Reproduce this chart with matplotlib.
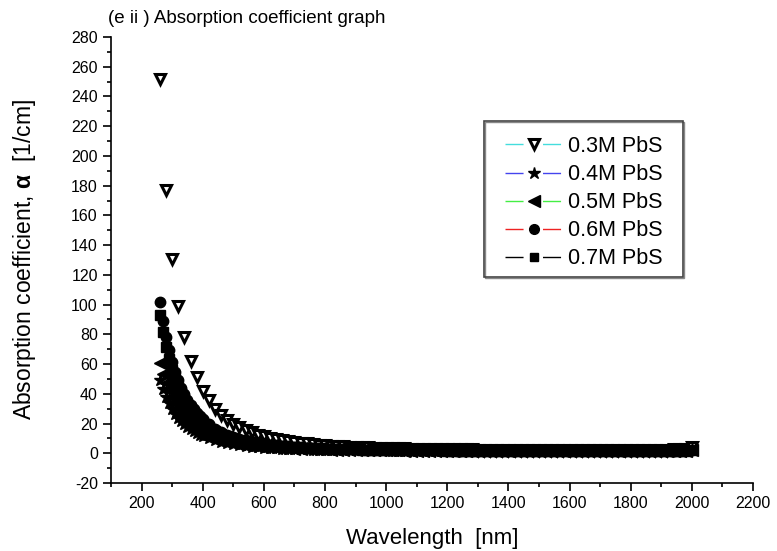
import numpy as np
import matplotlib
matplotlib.use("Agg")
import matplotlib.pyplot as plt
from matplotlib.lines import Line2D
from matplotlib.patches import Rectangle
from matplotlib.ticker import MultipleLocator

plt.rcParams['font.family'] = ['Liberation Sans', 'DejaVu Sans']
plt.rcParams['mathtext.fontset'] = 'custom'
plt.rcParams['mathtext.rm'] = 'Liberation Sans'
plt.rcParams['mathtext.bf'] = 'Liberation Sans:bold'
plt.rcParams['axes.unicode_minus'] = False

# wavelength grids [nm]
wl_03 = list(range(260, 701, 20)) + list(range(720, 2001, 20))
wl_dense = list(range(260, 401, 10)) + list(range(420, 701, 20)) + list(range(720, 2001, 20))

# absorption coefficient [1/cm]
alpha_03 = [252, 177, 131, 99, 78, 62, 51, 42, 36, 30, 26, 22.5, 19.5, 17.5, 15.5, 14, 12.5,
            11.5, 10.5, 9.6, 8.9, 8.2, 7.6,
            7.1, 6.6, 6.2, 5.8, 5.5, 5.2, 4.9, 4.7, 4.5, 4.3, 4.1, 4.0, 3.8, 3.7, 3.6,
            3.5, 3.4, 3.3, 3.2, 3.1, 3.0, 3.0, 2.9, 2.8, 2.8,
            2.7, 2.7, 2.6, 2.6, 2.5, 2.5, 2.5, 2.4, 2.4, 2.4,
            2.4, 2.3, 2.3, 2.3, 2.3, 2.3, 2.2, 2.2, 2.2, 2.2,
            2.2, 2.2, 2.2, 2.2, 2.2, 2.2, 2.2, 2.2, 2.2, 2.2,
            2.2, 2.3, 2.3, 2.3, 2.4, 2.5, 2.6, 2.8, 3.1, 3.9]

alpha_04 = [49.0, 43.0, 37.9, 33.6, 29.9, 26.7, 24.0, 21.6, 19.6, 17.8, 16.2, 14.8, 13.6, 12.5, 11.6,
            10.0, 8.6, 7.6, 6.7, 6.0, 5.4, 4.9, 4.5, 4.1, 3.8, 3.6, 3.4, 3.2, 3.0, 2.8,
            2.7, 2.6, 2.5, 2.4, 2.35, 2.3, 2.25, 2.2, 2.15, 2.05, 2.0, 2.0, 1.95, 1.9, 1.9,
            1.85, 1.85, 1.8, 1.8, 1.75, 1.75, 1.7, 1.7, 1.7, 1.65,
            1.65, 1.65, 1.6, 1.6, 1.6, 1.6, 1.55, 1.55, 1.55, 1.55,
            1.5, 1.5, 1.5, 1.5, 1.5, 1.5, 1.5, 1.5, 1.5, 1.5,
            1.5, 1.5, 1.5, 1.5, 1.5, 1.5, 1.5, 1.5, 1.5, 1.5,
            1.5, 1.5, 1.5, 1.5, 1.55, 1.55, 1.6, 1.65, 1.75, 1.9]

alpha_05 = [61.0, 53.4, 47.1, 41.7, 37.0, 33.1, 29.7, 26.7, 24.2, 21.9, 19.9, 18.2, 16.7, 15.3, 14.1,
            12.1, 10.5, 9.1, 8.0, 7.2, 6.4, 5.8, 5.3, 4.8, 4.4, 4.1, 3.8, 3.6, 3.4, 3.2,
            3.0, 2.9, 2.8, 2.7, 2.55, 2.5, 2.4, 2.35, 2.3, 2.2, 2.15, 2.1, 2.05, 2.0, 1.95,
            1.9, 1.9, 1.85, 1.85, 1.8, 1.8, 1.75, 1.75, 1.7, 1.7,
            1.7, 1.65, 1.65, 1.65, 1.6, 1.6, 1.6, 1.6, 1.6, 1.55,
            1.55, 1.55, 1.55, 1.55, 1.55, 1.55, 1.55, 1.55, 1.55, 1.55,
            1.55, 1.55, 1.55, 1.55, 1.55, 1.55, 1.55, 1.55, 1.55, 1.55,
            1.55, 1.55, 1.55, 1.55, 1.6, 1.6, 1.65, 1.7, 1.8, 1.95]

alpha_06 = [102.0, 89.2, 78.5, 69.3, 61.5, 54.9, 49.1, 44.1, 39.8, 36.0, 32.6, 29.7, 27.1, 24.8, 22.8,
            19.4, 16.6, 14.4, 12.6, 11.0, 9.8, 8.7, 7.9, 7.1, 6.5, 5.9, 5.4, 5.0, 4.7, 4.3,
            4.0, 3.8, 3.6, 3.4, 3.3, 3.1, 3.0, 2.9, 2.8, 2.65, 2.6, 2.5, 2.45, 2.4, 2.3,
            2.25, 2.2, 2.15, 2.1, 2.05, 2.0, 2.0, 1.95, 1.95, 1.9,
            1.9, 1.85, 1.85, 1.8, 1.8, 1.8, 1.75, 1.75, 1.75, 1.7,
            1.7, 1.7, 1.7, 1.7, 1.7, 1.7, 1.65, 1.65, 1.65, 1.65,
            1.65, 1.65, 1.65, 1.65, 1.65, 1.65, 1.65, 1.65, 1.65, 1.65,
            1.65, 1.65, 1.65, 1.65, 1.7, 1.7, 1.75, 1.8, 1.9, 2.1]

alpha_07 = [93.0, 81.4, 71.6, 63.3, 56.2, 50.1, 44.8, 40.3, 36.3, 32.9, 29.9, 27.2, 24.8, 22.8, 20.9,
            17.8, 15.3, 13.2, 11.6, 10.2, 9.0, 8.1, 7.3, 6.6, 6.0, 5.5, 5.1, 4.7, 4.4, 4.1,
            3.8, 3.6, 3.4, 3.3, 3.1, 3.0, 2.9, 2.8, 2.7, 2.6, 2.5, 2.45, 2.4, 2.3, 2.25,
            2.2, 2.15, 2.1, 2.05, 2.0, 1.95, 1.95, 1.9, 1.9, 1.85,
            1.85, 1.8, 1.8, 1.75, 1.75, 1.75, 1.7, 1.7, 1.7, 1.7,
            1.65, 1.65, 1.65, 1.65, 1.65, 1.65, 1.6, 1.6, 1.6, 1.6,
            1.6, 1.6, 1.6, 1.6, 1.6, 1.6, 1.6, 1.6, 1.6, 1.6,
            1.6, 1.6, 1.6, 1.6, 1.65, 1.65, 1.7, 1.75, 1.85, 2.0]

labels = ["0.3M PbS", "0.4M PbS", "0.5M PbS", "0.6M PbS", "0.7M PbS"]
line_colors = ["#44dddd", "#4444ee", "#44ee44", "#ee2222", "#000000"]

fig = plt.figure(figsize=(7.77, 5.51), dpi=100)
ax = fig.add_axes([0.1429, 0.1234, 0.8262, 0.8094])

ax.plot(wl_03, alpha_03, ls="none", marker="v", ms=7, mfc="white", mec="black", mew=2.2)
ax.plot(wl_dense, alpha_04, ls="none", marker="*", ms=9.5, color="black")
ax.plot(wl_dense, alpha_05, ls="none", marker="<", ms=8, color="black")
ax.plot(wl_dense, alpha_06, ls="none", marker="o", ms=7.5, color="black")
ax.plot(wl_dense, alpha_07, ls="none", marker="s", ms=6.5, color="black")

ax.set_xlim(100, 2200)
ax.set_ylim(-20, 280)
ax.xaxis.set_major_locator(MultipleLocator(200))
ax.xaxis.set_minor_locator(MultipleLocator(100))
ax.yaxis.set_major_locator(MultipleLocator(20))
ax.yaxis.set_minor_locator(MultipleLocator(10))
ax.set_xticks([200, 400, 600, 800, 1000, 1200, 1400, 1600, 1800, 2000, 2200])
ax.spines["top"].set_visible(False)
ax.spines["right"].set_visible(False)
ax.tick_params(which="major", direction="out", length=6, width=1.2, labelsize=11.5)
ax.tick_params(which="minor", direction="out", length=3, width=1.2)
for s in ["left", "bottom"]:
    ax.spines[s].set_linewidth(1.2)

ax.set_xlabel("Wavelength  [nm]", fontsize=16, labelpad=12)
ax.set_ylabel(r"Absorption coefficient, $\mathbf{\alpha}$  [1/cm]", fontsize=16.5, labelpad=24)
fig.text(0.139, 0.967, "(e ii ) Absorption coefficient graph", fontsize=13.5, va="center", ha="left")

dash = (0, (13, 14, 13, 100))
handles = [
    Line2D([], [], color=line_colors[0], lw=1, ls=dash, marker="v", ms=7, mfc="white", mec="black", mew=2.2),
    Line2D([], [], color=line_colors[1], lw=1, ls=dash, marker="*", ms=9, mfc="black", mec="black"),
    Line2D([], [], color=line_colors[2], lw=1, ls=dash, marker="<", ms=8, mfc="black", mec="black"),
    Line2D([], [], color=line_colors[3], lw=1, ls=dash, marker="o", ms=7, mfc="black", mec="black"),
    Line2D([], [], color=line_colors[4], lw=1, ls=dash, marker="s", ms=6, mfc="black", mec="black"),
]
leg = fig.legend(handles, labels, loc="upper left", bbox_to_anchor=(0.6319, 0.7786),
                 fontsize=15.5, frameon=False,
                 handlelength=2.65, handletextpad=0.3, labelspacing=0.33,
                 borderpad=0.65, borderaxespad=0)

# legend box (Origin style, with a slight shadow on right/bottom)
fig.patches.append(Rectangle((0.6229, 0.4973), 0.2561, 0.2831, transform=fig.transFigure,
                             fill=False, edgecolor="#444444", linewidth=1.2, zorder=5))
fig.patches.append(Rectangle((0.6229 + 0.0017, 0.4973 - 0.002), 0.2561, 0.2831,
                             transform=fig.transFigure, fill=False, edgecolor="#888888",
                             linewidth=1.0, zorder=4))

fig.savefig("out.png", dpi=100)
